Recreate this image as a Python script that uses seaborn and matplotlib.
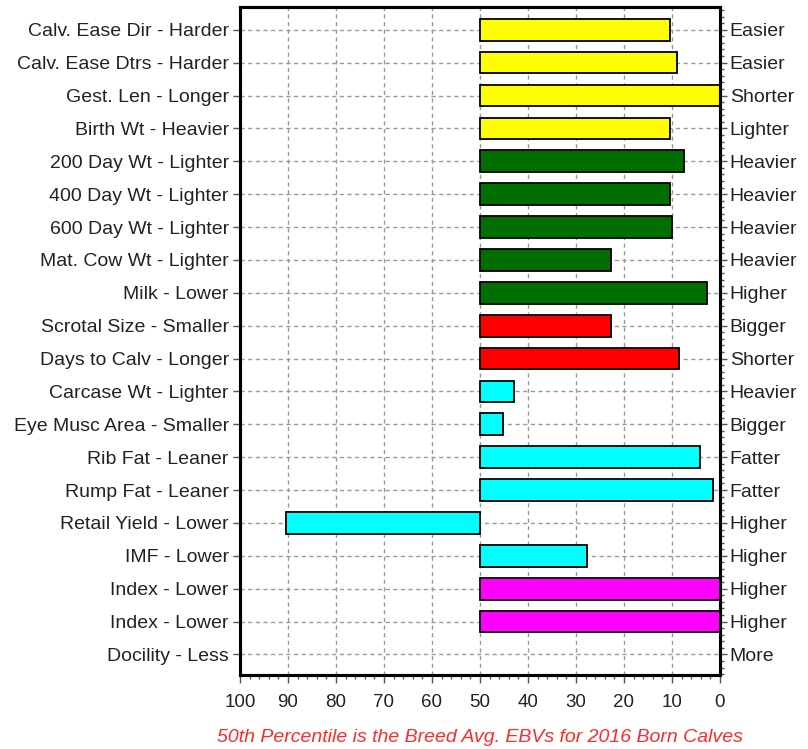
import matplotlib
matplotlib.use("Agg")
import matplotlib.pyplot as plt
import matplotlib.ticker as ticker
import numpy as np
import pandas as pd
import seaborn as sns

left_labels = [
    "Calv. Ease Dir - Harder", "Calv. Ease Dtrs - Harder", "Gest. Len - Longer",
    "Birth Wt - Heavier", "200 Day Wt - Lighter", "400 Day Wt - Lighter",
    "600 Day Wt - Lighter", "Mat. Cow Wt - Lighter", "Milk - Lower",
    "Scrotal Size - Smaller", "Days to Calv - Longer", "Carcase Wt - Lighter",
    "Eye Musc Area - Smaller", "Rib Fat - Leaner", "Rump Fat - Leaner",
    "Retail Yield - Lower", "IMF - Lower", "Index - Lower", "Index - Lower",
    "Docility - Less",
]
right_labels = [
    "Easier", "Easier", "Shorter", "Lighter", "Heavier", "Heavier", "Heavier",
    "Heavier", "Higher", "Bigger", "Shorter", "Heavier", "Bigger", "Fatter",
    "Fatter", "Higher", "Higher", "Higher", "Higher", "More",
]
# percentile band reached by each trait (docility has no bar)
percentile = [10.5, 9, 0, 10.5, 7.5, 10.5, 10, 22.7, 2.6, 22.7, 8.6, 43, 45.3,
              4.2, 1.5, 90.5, 27.6, 0, 0, np.nan]
groups = (["calving"] * 4 + ["growth"] * 5 + ["fertility"] * 2
          + ["carcase"] * 6 + ["index"] * 2 + ["docility"])
palette = {"calving": "#ffff00", "growth": "#006f00", "fertility": "#ff0000",
           "carcase": "#00ffff", "index": "#ff00ff", "docility": "#ffffff"}
breed_avg = 50

sns.set_theme(style="white")
plt.rcParams["font.family"] = ["Liberation Sans", "DejaVu Sans"]

df = pd.DataFrame({
    "row": range(len(left_labels)),
    "offset": np.array(percentile) - breed_avg,
    "group": groups,
})

fig = plt.figure(figsize=(8.08, 7.49), dpi=100)
ax = fig.add_axes([0.297, 0.099, 0.594, 0.892])

sns.barplot(
    data=df, x="offset", y="row", hue="group", palette=palette, saturation=1,
    order=list(range(len(left_labels))), orient="h", dodge=False,
    width=0.66, left=breed_avg, edgecolor="black", linewidth=1.3,
    legend=False, ax=ax,
)

ax.set_xlim(100, 0)
ax.set_ylim(19.62, -0.7)
ax.set_xlabel("")
ax.set_ylabel("")
ax.set_xticks(range(0, 101, 10))
ax.xaxis.set_minor_locator(ticker.MultipleLocator(2))
ax.set_yticks(range(len(left_labels)))
ax.set_yticklabels(left_labels)
ax.grid(True, which="major", color="#999999", linestyle=(0, (3, 2.5)), linewidth=1)
ax.set_axisbelow(True)
ax.tick_params(axis="both", which="major", labelcolor="#222222",
               color="#555555", length=5, width=1, bottom=True, left=True)
ax.tick_params(axis="y", which="major", labelsize=14, pad=3)
ax.tick_params(axis="x", which="minor", bottom=True, length=3, width=1, color="#555555")
ax.tick_params(axis="x", which="major", labelsize=13.5, pad=8, length=6)

ax2 = ax.twinx()
ax2.set_ylim(ax.get_ylim())
ax2.set_yticks(range(len(right_labels)))
ax2.set_yticklabels(right_labels)
ax2.yaxis.set_minor_locator(ticker.MultipleLocator(0.2))
ax2.tick_params(axis="y", which="major", right=True, length=5, width=1,
                color="#555555", labelsize=14, labelcolor="#222222", pad=2)
ax2.tick_params(axis="y", which="minor", right=True, length=3, width=1, color="#555555")
ax2.grid(False)

for a in (ax, ax2):
    for spine in a.spines.values():
        spine.set_linewidth(2.2)
        spine.set_color("black")

fig.text(0.594, 0.01, "50th Percentile is the Breed Avg. EBVs for 2016 Born Calves",
         color="#ff2a2a", style="italic", ha="center", fontsize=14)

fig.savefig("out.png", dpi=100)
